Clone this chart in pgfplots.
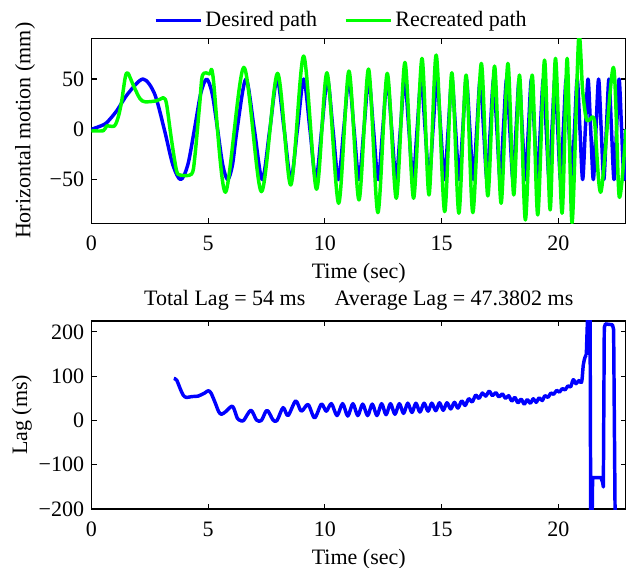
\documentclass[border=0pt]{standalone}
\usepackage{fontspec}
\setmainfont{Liberation Serif}
\usepackage{pgfplots}
\usepackage{pgfplotstable}
\pgfplotsset{compat=1.18}
\definecolor{desired}{RGB}{0,0,255}
\definecolor{recreated}{RGB}{0,255,0}
\newcommand\ff{\fontsize{16.5}{19.8}\selectfont}

% desired path: peaks, troughs and zero crossings
\pgfplotstableread{
t v
0 0
0.552 4.9
0.780 9.8
1.103 19.1
1.560 35.4
2.206 50
2.702 35.4
3.120 0
3.488 -35.4
3.821 -50
4.127 -35.4
4.412 0
4.679 35.4
4.933 50
5.173 35.4
5.403 0
5.624 -35.4
5.836 -50
6.041 -35.4
6.239 0
6.618 50
6.976 0
7.316 -50
7.641 0
7.954 50
8.254 0
8.543 -50
8.824 0
9.095 50
9.359 0
9.615 -50
9.865 0
10.109 50
10.346 0
10.579 -50
10.807 0
11.030 50
11.248 0
11.462 -50
11.672 0
11.879 50
12.082 0
12.282 -50
12.478 0
12.672 50
12.863 0
13.050 -50
13.235 0
13.418 50
13.598 0
13.776 -50
13.951 0
14.124 50
14.296 0
14.465 -50
14.632 0
14.798 50
14.961 0
15.123 -50
15.283 0
15.441 50
15.598 0
15.753 -50
15.907 0
16.059 50
16.210 0
16.359 -50
16.507 0
16.654 50
16.800 0
16.944 -50
17.087 0
17.228 50
17.369 0
17.509 -50
17.647 0
17.785 50
17.921 0
18.056 -50
18.190 0
18.323 50
18.456 0
18.587 -50
18.718 0
18.847 50
18.976 0
19.104 -50
19.230 0
19.357 50
19.482 0
19.607 -50
19.730 0
19.853 50
19.975 0
20.097 -50
20.217 0
20.337 50
20.457 0
20.575 -50
20.693 0
20.810 50
20.927 0
21.043 -50
21.158 0
21.273 50
21.387 0
21.500 -50
21.613 0
21.726 50
21.837 0
21.949 -50
22.059 0
22.169 50
22.278 0
22.387 -50
22.496 0
22.604 50
22.711 0
22.818 -50
22.924 0
}\desiredtab

% recreated path
\pgfplotstableread{
t v
0 -1.4
0.51 -1.4
0.65 3.3
0.98 3.3
1.15 12.5
1.29 27.4
1.45 52
1.56 56
1.79 44
2.07 30.8
2.29 27.4
2.79 28.4
3.07 31.5
3.16 30
3.24 22
3.43 -10.6
3.64 -40.5
3.79 -45.4
4.29 -44.5
4.43 -27
4.64 26
4.76 54
5.07 55
5.21 52
5.74 -62.6
6.53 61.6
7.28 -62
7.97 55.7
8.54 -55.4
9.09 72.9
9.64 -59.6
10.09 56.3
10.59 -73.6
11.03 58
11.46 -70.3
11.87 60
12.27 -82.9
12.67 55.7
13.06 -68.6
13.43 66.6
13.80 -68.6
14.16 70.6
14.46 -65.3
14.77 73.9
15.13 -81.9
15.44 56.3
15.74 -83.5
16.05 54
16.34 -82.9
16.70 65.6
16.98 -66.3
17.27 62.9
17.55 -73.6
17.84 65.6
18.09 -65.3
18.34 54
18.59 -90.2
18.88 54
19.12 -85.2
19.41 68.9
19.65 -80.2
19.88 70.6
20.16 -83.5
20.38 70.6
20.59 -93
20.87 90
21.04 39
21.19 11
21.32 9
21.55 8
21.83 -62
22.36 61.6
22.61 -67
22.90 0
}\recreatedtab

% lag, smooth part
\pgfplotstableread{
t v
3.53 95
3.65 91
3.80 72
3.93 57
4.07 52
4.30 54
4.57 55
4.85 62
5.00 67
5.12 62
5.30 40
5.45 20
5.57 14
5.75 20
6.00 32
6.10 27
6.25 5
6.38 0
6.52 0
6.83 23
7.07 1
7.28 0
7.52 23
7.78 1
7.95 0
8.21 29
8.42 11
8.75 44
8.99 21
9.28 36
9.56 6
9.85 37
10.06 21
10.28 38
10.52 11
10.76 38
10.98 10
11.20 38
11.41 11
11.62 37
11.83 11
12.03 37
12.23 11
12.43 38
12.62 13
12.81 38
13.00 14
13.19 38
13.37 16
13.55 39
13.73 18
13.90 39
14.07 19
14.25 39
14.42 21
14.58 39
14.75 22
14.91 40
15.07 23
15.23 40
15.39 26
15.55 41
15.70 28
15.86 44
16.01 34
16.16 49
16.31 42
16.46 57
16.60 50
16.75 62
16.89 55
17.04 66
17.18 56
17.32 63
17.46 53
17.60 60
17.74 50
17.87 56
18.01 44
18.14 52
18.27 40
18.41 48
18.54 37
18.67 47
18.80 39
18.93 49
19.05 41
19.18 51
19.31 45
19.43 56
19.56 52
19.68 62
19.80 59
19.93 68
20.05 64
20.17 72
20.29 69
20.41 78
20.53 76
20.64 92
20.76 83
20.88 90
21.00 87
21.07 125
21.14 142
21.20 148
}\lagtab

% lag, jumps at the end
\pgfplotstableread{
t v
21.20 148
21.27 260
21.36 260
21.39 -260
21.44 -260
21.47 -129
21.83 -129
21.90 -140
21.93 -150
21.97 210
22.02 218
22.32 216
22.37 205
22.44 -260
}\lagendtab

\pgfplotsset{
  mlab/.style={
    scale only axis, width=400.9pt,
    xmin=0, xmax=22.9,
    xtick={0,5,10,15,20},
    tick align=inside, major tick length=4pt,
    axis line style={line width=1.1pt},
    major tick style={black, line width=0.9pt},
    tick label style={font=\ff},
    label style={font=\ff},
    /pgf/number format/assume math mode=true,
    xticklabel style={yshift=-6pt},
    yticklabel style={xshift=-2pt},
    xlabel={Time (sec)},
    xlabel style={at={(axis description cs:0.5,0)}, anchor=center, yshift=-37.5pt},
  },
}

\begin{document}
\begin{tikzpicture}
\begin{axis}[mlab,
  at={(0pt,0pt)}, anchor=south west,
  height=138.75pt,
  ymin=-93.5, ymax=90.5,
  ytick={-50,0,50}, yticklabels={−50,0,50},
  ylabel={Horizontal motion (mm)},
  ylabel style={at={(axis description cs:-0.1244,0.5)}, anchor=center},
  legend columns=2,
  legend style={at={(axis description cs:0.468,1)}, anchor=center, yshift=13.5pt,
    draw=none, fill=none, font=\ff,
    /tikz/every even column/.append style={column sep=18pt}},
  legend image code/.code={\draw[#1] (0pt,0pt) -- (34pt,0pt);},
]
\addplot[desired, line width=2.6pt, line join=round, smooth, no markers] table[x=t, y=v] {\desiredtab};
\addlegendentry{Desired path}
\addplot[recreated, line width=2.6pt, line join=round, smooth, no markers] table[x=t, y=v] {\recreatedtab};
\addlegendentry{Recreated path}
\end{axis}

\begin{axis}[mlab,
  at={(0pt,-214.3pt)}, anchor=south west,
  height=141.2pt,
  ymin=-200, ymax=225,
  ytick={-200,-100,0,100,200}, yticklabels={−200,−100,0,100,200},
  ylabel={Lag (ms)},
  ylabel style={at={(axis description cs:-0.130,0.5)}, anchor=center},
  title={Total Lag = 54 ms\hspace{22pt}Average Lag = 47.3802 ms},
  title style={at={(axis description cs:0.5,1)}, anchor=center, yshift=9.5pt, font=\ff},
]
\addplot[desired, line width=2.6pt, line join=round, smooth, no markers] table[x=t, y=v] {\lagtab};
\addplot[desired, line width=2.6pt, line join=round, no markers] table[x=t, y=v] {\lagendtab};
\end{axis}

\pgfresetboundingbox
\path[use as bounding box] (-68.6pt,-257.8pt) rectangle (400.9pt,167.5pt);
\end{tikzpicture}
\end{document}
